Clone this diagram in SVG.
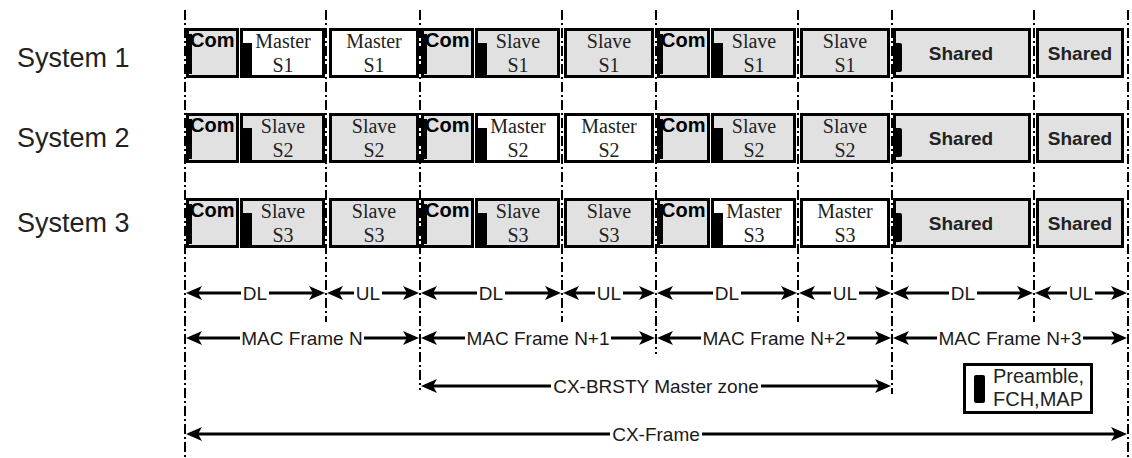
<svg xmlns="http://www.w3.org/2000/svg" width="1132" height="458" viewBox="0 0 1132 458">
<style>
.box{stroke:#000;stroke-width:3}
.g{fill:#e1e1e1}
.w{fill:#fff}
.blk{fill:#000}
.com{font:bold 20px "Liberation Sans",Arial,sans-serif;fill:#000}
.slot{font:20px "Liberation Serif","Times New Roman",serif;text-anchor:middle;fill:#222}
.sh{font:bold 19px "Liberation Sans",Arial,sans-serif;text-anchor:middle;fill:#222}
.sys{font:27px "Liberation Sans",Arial,sans-serif;fill:#222}
.lbl{font:19px "Liberation Sans",Arial,sans-serif;text-anchor:middle;fill:#1a1a1a}
.bg{fill:#fff}
.leg{font:20px "Liberation Sans",Arial,sans-serif;fill:#222}
.guide{stroke:#000;stroke-width:2;stroke-dasharray:10 3 2 3;fill:none}
.arr{stroke:#000;stroke-width:3;fill:none;marker-start:url(#ah);marker-end:url(#ah)}
</style>
<defs>
<marker id="ah" viewBox="0 0 16 14" markerUnits="userSpaceOnUse" markerWidth="16" markerHeight="14" refX="12" refY="7" orient="auto-start-reverse">
<path d="M0,0 L16,7 L0,14 L4,7 Z" fill="#000"/>
</marker>
</defs>
<rect width="1132" height="458" fill="#fff"/>

<g id="labels">
<text class="sys" x="17" y="67">System 1</text>
<text class="sys" x="17" y="147">System 2</text>
<text class="sys" x="17" y="232">System 3</text>
</g>

<!-- System 1 -->
<g id="s1-f0" transform="translate(185,28)">
<rect class="box g" x="2.5" y="1.5" width="50" height="47"/>
<rect class="blk" x="1" y="6" width="6" height="40"/>
<text class="com" x="5" y="19">Com</text>
<rect class="box w" x="56.5" y="1.5" width="82" height="47"/>
<rect class="blk" x="55" y="15" width="12" height="32"/>
<text class="slot" x="98" y="20">Master</text><text class="slot" x="98" y="44">S1</text>
<rect class="box w" x="145.5" y="1.5" width="87" height="47"/>
<text class="slot" x="189" y="20">Master</text><text class="slot" x="189" y="44">S1</text>
</g>
<g id="s1-f1" transform="translate(420,28)">
<rect class="box g" x="2.5" y="1.5" width="50" height="47"/>
<rect class="blk" x="1" y="6" width="6" height="40"/>
<text class="com" x="5" y="19">Com</text>
<rect class="box g" x="56.5" y="1.5" width="82" height="47"/>
<rect class="blk" x="55" y="15" width="12" height="32"/>
<text class="slot" x="98" y="20">Slave</text><text class="slot" x="98" y="44">S1</text>
<rect class="box g" x="145.5" y="1.5" width="87" height="47"/>
<text class="slot" x="189" y="20">Slave</text><text class="slot" x="189" y="44">S1</text>
</g>
<g id="s1-f2" transform="translate(656,28)">
<rect class="box g" x="2.5" y="1.5" width="50" height="47"/>
<rect class="blk" x="1" y="6" width="6" height="40"/>
<text class="com" x="5" y="19">Com</text>
<rect class="box g" x="56.5" y="1.5" width="82" height="47"/>
<rect class="blk" x="55" y="15" width="12" height="32"/>
<text class="slot" x="98" y="20">Slave</text><text class="slot" x="98" y="44">S1</text>
<rect class="box g" x="145.5" y="1.5" width="87" height="47"/>
<text class="slot" x="189" y="20">Slave</text><text class="slot" x="189" y="44">S1</text>
</g>
<g id="s1-f3" transform="translate(892,28)">
<rect class="box g" x="2.5" y="1.5" width="135" height="47"/>
<rect class="blk" x="1" y="15" width="9" height="29" rx="2"/>
<text class="sh" x="69" y="32">Shared</text>
<rect class="box g" x="145.5" y="1.5" width="85" height="47"/>
<text class="sh" x="188" y="32">Shared</text>
</g>

<!-- System 2 -->
<g id="s2-f0" transform="translate(185,113)">
<rect class="box g" x="2.5" y="1.5" width="50" height="47"/>
<rect class="blk" x="1" y="6" width="6" height="40"/>
<text class="com" x="5" y="19">Com</text>
<rect class="box g" x="56.5" y="1.5" width="82" height="47"/>
<rect class="blk" x="55" y="15" width="12" height="32"/>
<text class="slot" x="98" y="20">Slave</text><text class="slot" x="98" y="44">S2</text>
<rect class="box g" x="145.5" y="1.5" width="87" height="47"/>
<text class="slot" x="189" y="20">Slave</text><text class="slot" x="189" y="44">S2</text>
</g>
<g id="s2-f1" transform="translate(420,113)">
<rect class="box g" x="2.5" y="1.5" width="50" height="47"/>
<rect class="blk" x="1" y="6" width="6" height="40"/>
<text class="com" x="5" y="19">Com</text>
<rect class="box w" x="56.5" y="1.5" width="82" height="47"/>
<rect class="blk" x="55" y="15" width="12" height="32"/>
<text class="slot" x="98" y="20">Master</text><text class="slot" x="98" y="44">S2</text>
<rect class="box w" x="145.5" y="1.5" width="87" height="47"/>
<text class="slot" x="189" y="20">Master</text><text class="slot" x="189" y="44">S2</text>
</g>
<g id="s2-f2" transform="translate(656,113)">
<rect class="box g" x="2.5" y="1.5" width="50" height="47"/>
<rect class="blk" x="1" y="6" width="6" height="40"/>
<text class="com" x="5" y="19">Com</text>
<rect class="box g" x="56.5" y="1.5" width="82" height="47"/>
<rect class="blk" x="55" y="15" width="12" height="32"/>
<text class="slot" x="98" y="20">Slave</text><text class="slot" x="98" y="44">S2</text>
<rect class="box g" x="145.5" y="1.5" width="87" height="47"/>
<text class="slot" x="189" y="20">Slave</text><text class="slot" x="189" y="44">S2</text>
</g>
<g id="s2-f3" transform="translate(892,113)">
<rect class="box g" x="2.5" y="1.5" width="135" height="47"/>
<rect class="blk" x="1" y="15" width="9" height="29" rx="2"/>
<text class="sh" x="69" y="32">Shared</text>
<rect class="box g" x="145.5" y="1.5" width="85" height="47"/>
<text class="sh" x="188" y="32">Shared</text>
</g>

<!-- System 3 -->
<g id="s3-f0" transform="translate(185,198)">
<rect class="box g" x="2.5" y="1.5" width="50" height="47"/>
<rect class="blk" x="1" y="6" width="6" height="40"/>
<text class="com" x="5" y="19">Com</text>
<rect class="box g" x="56.5" y="1.5" width="82" height="47"/>
<rect class="blk" x="55" y="15" width="12" height="32"/>
<text class="slot" x="98" y="20">Slave</text><text class="slot" x="98" y="44">S3</text>
<rect class="box g" x="145.5" y="1.5" width="87" height="47"/>
<text class="slot" x="189" y="20">Slave</text><text class="slot" x="189" y="44">S3</text>
</g>
<g id="s3-f1" transform="translate(420,198)">
<rect class="box g" x="2.5" y="1.5" width="50" height="47"/>
<rect class="blk" x="1" y="6" width="6" height="40"/>
<text class="com" x="5" y="19">Com</text>
<rect class="box g" x="56.5" y="1.5" width="82" height="47"/>
<rect class="blk" x="55" y="15" width="12" height="32"/>
<text class="slot" x="98" y="20">Slave</text><text class="slot" x="98" y="44">S3</text>
<rect class="box g" x="145.5" y="1.5" width="87" height="47"/>
<text class="slot" x="189" y="20">Slave</text><text class="slot" x="189" y="44">S3</text>
</g>
<g id="s3-f2" transform="translate(656,198)">
<rect class="box g" x="2.5" y="1.5" width="50" height="47"/>
<rect class="blk" x="1" y="6" width="6" height="40"/>
<text class="com" x="5" y="19">Com</text>
<rect class="box w" x="56.5" y="1.5" width="82" height="47"/>
<rect class="blk" x="55" y="15" width="12" height="32"/>
<text class="slot" x="98" y="20">Master</text><text class="slot" x="98" y="44">S3</text>
<rect class="box w" x="145.5" y="1.5" width="87" height="47"/>
<text class="slot" x="189" y="20">Master</text><text class="slot" x="189" y="44">S3</text>
</g>
<g id="s3-f3" transform="translate(892,198)">
<rect class="box g" x="2.5" y="1.5" width="135" height="47"/>
<rect class="blk" x="1" y="15" width="9" height="29" rx="2"/>
<text class="sh" x="69" y="32">Shared</text>
<rect class="box g" x="145.5" y="1.5" width="85" height="47"/>
<text class="sh" x="188" y="32">Shared</text>
</g>

<g id="guides">
<line class="guide" x1="185" y1="10" x2="185" y2="458"/>
<line class="guide" x1="326" y1="10" x2="326" y2="322"/>
<line class="guide" x1="420" y1="10" x2="420" y2="390"/>
<line class="guide" x1="562" y1="10" x2="562" y2="322"/>
<line class="guide" x1="656" y1="10" x2="656" y2="354"/>
<line class="guide" x1="798" y1="10" x2="798" y2="322"/>
<line class="guide" x1="892" y1="10" x2="892" y2="394"/>
<line class="guide" x1="1034" y1="10" x2="1034" y2="322"/>
<line class="guide" x1="1128" y1="10" x2="1128" y2="458"/>
</g>

<g id="connectors">
<line class="arr" x1="190" y1="293" x2="321" y2="293"/>
<line class="arr" x1="331" y1="293" x2="415" y2="293"/>
<line class="arr" x1="425" y1="293" x2="557" y2="293"/>
<line class="arr" x1="567" y1="293" x2="651" y2="293"/>
<line class="arr" x1="661" y1="293" x2="793" y2="293"/>
<line class="arr" x1="803" y1="293" x2="887" y2="293"/>
<line class="arr" x1="897" y1="293" x2="1029" y2="293"/>
<line class="arr" x1="1039" y1="293" x2="1123" y2="293"/>
<line class="arr" x1="190" y1="338" x2="415" y2="338"/>
<line class="arr" x1="425" y1="338" x2="651" y2="338"/>
<line class="arr" x1="661" y1="338" x2="887" y2="338"/>
<line class="arr" x1="897" y1="338" x2="1123" y2="338"/>
<line class="arr" x1="425" y1="386" x2="887" y2="386"/>
<line class="arr" x1="190" y1="434" x2="1123" y2="434"/>
</g>

<g id="arrow-labels">
<rect class="bg" x="241" y="285" width="28" height="16"/><text class="lbl" x="255" y="300">DL</text>
<rect class="bg" x="354" y="285" width="28" height="16"/><text class="lbl" x="368" y="300">UL</text>
<rect class="bg" x="477" y="285" width="28" height="16"/><text class="lbl" x="491" y="300">DL</text>
<rect class="bg" x="595" y="285" width="28" height="16"/><text class="lbl" x="609" y="300">UL</text>
<rect class="bg" x="713" y="285" width="28" height="16"/><text class="lbl" x="727" y="300">DL</text>
<rect class="bg" x="831" y="285" width="28" height="16"/><text class="lbl" x="845" y="300">UL</text>
<rect class="bg" x="949" y="285" width="28" height="16"/><text class="lbl" x="963" y="300">DL</text>
<rect class="bg" x="1067" y="285" width="28" height="16"/><text class="lbl" x="1081" y="300">UL</text>
<rect class="bg" x="240" y="330" width="124" height="16"/><text class="lbl" x="302" y="345">MAC Frame N</text>
<rect class="bg" x="465" y="330" width="146" height="16"/><text class="lbl" x="538" y="345">MAC Frame N+1</text>
<rect class="bg" x="701" y="330" width="146" height="16"/><text class="lbl" x="774" y="345">MAC Frame N+2</text>
<rect class="bg" x="937" y="330" width="146" height="16"/><text class="lbl" x="1010" y="345">MAC Frame N+3</text>
<rect class="bg" x="551" y="378" width="210" height="16"/><text class="lbl" x="656" y="393">CX-BRSTY Master zone</text>
<rect class="bg" x="610" y="426" width="92" height="16"/><text class="lbl" x="656" y="441">CX-Frame</text>
</g>

<g id="legend">
<rect x="964.5" y="364.5" width="127" height="48" fill="#fff" stroke="#000" stroke-width="3"/>
<rect x="974" y="375" width="11" height="28" rx="2" fill="#000"/>
<text class="leg" x="993" y="383">Preamble,</text>
<text class="leg" x="993" y="406">FCH,MAP</text>
</g>
</svg>
